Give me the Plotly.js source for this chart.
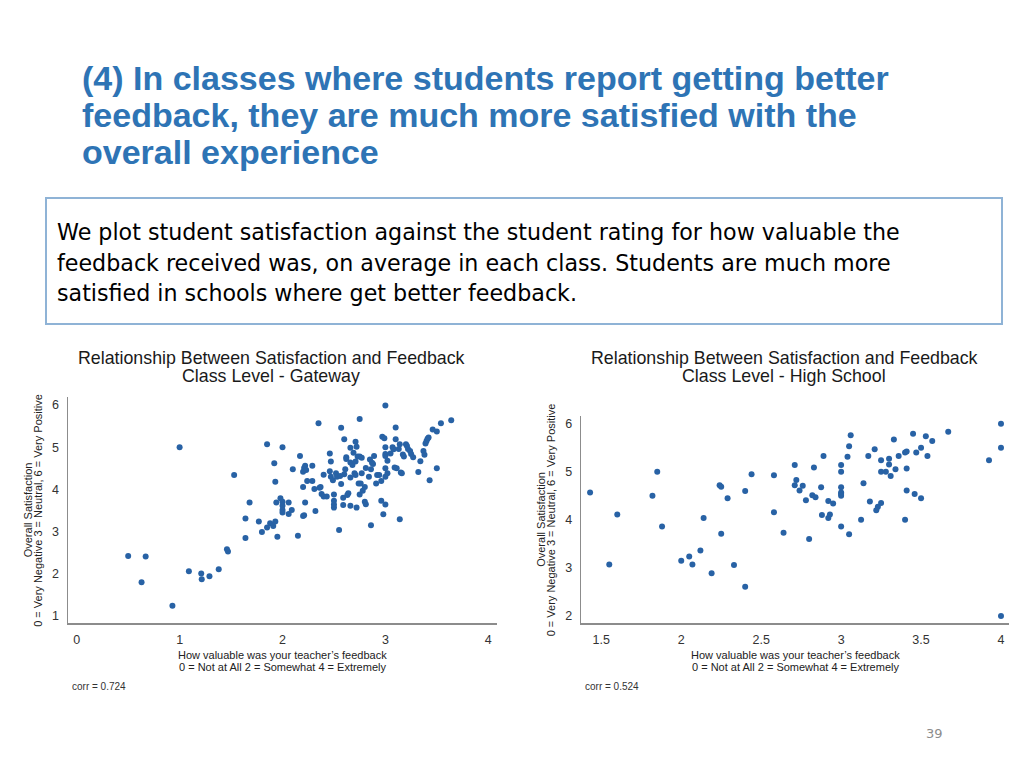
<!DOCTYPE html>
<html>
<head>
<meta charset="utf-8">
<script src="https://cdn.plot.ly/plotly-3.0.1.min.js"></script>
<style>
  html, body { margin: 0; padding: 0; background: #ffffff; }
  #chart { width: 1024px; height: 768px; }
</style>
</head>
<body>
<div id="chart"></div>
<script>
// ---------- Data ----------
// Gateway: class-level mean feedback rating (x) and satisfaction (y)
const gatewayFeedback = [
  0.50,0.67,0.63,0.93,1.00,1.09,1.21,1.215,1.29,1.38,
  1.46,1.47,1.53,1.64,1.64,1.68,1.77,1.80,1.85,1.85,
  1.88,1.91,1.93,1.92,1.93,1.95,1.94,1.98,2.00,2.00,
  2.00,2.00,2.00,2.06,2.06,2.09,2.10,2.15,2.17,2.20,
  2.20,2.21,2.20,2.21,2.22,2.23,2.24,2.22,2.29,2.29,
  2.31,2.32,2.35,2.36,2.37,2.38,2.40,2.40,2.43,2.46,
  2.46,2.47,2.47,2.49,2.50,2.50,2.50,2.50,2.52,2.53,
  2.55,2.56,2.57,2.57,2.59,2.59,2.60,2.60,2.61,2.62,
  2.62,2.63,2.64,2.66,2.66,2.66,2.66,2.68,2.69,2.70,
  2.71,2.71,2.71,2.72,2.72,2.73,2.74,2.75,2.75,2.75,
  2.76,2.77,2.77,2.78,2.80,2.80,2.81,2.81,2.84,2.85,
  2.86,2.86,2.87,2.88,2.89,2.91,2.92,2.94,2.96,2.96,
  2.97,2.98,2.99,3.00,3.00,3.00,3.00,3.00,3.00,3.00,
  3.02,3.02,3.05,3.07,3.08,3.10,3.10,3.09,3.11,3.13,
  3.14,3.14,3.15,3.16,3.17,3.18,3.20,3.21,3.22,3.24,
  3.25,3.27,3.32,3.34,3.37,3.38,3.39,3.40,3.41,3.42,
  3.43,3.46,3.50,3.50,3.54,3.64
];
const gatewaySatisfaction = [
  2.42,2.41,1.80,1.24,5.00,2.06,2.01,1.87,1.94,2.11,
  2.58,2.53,4.34,3.31,2.85,3.69,3.24,2.99,5.07,3.10,
  3.20,3.13,3.24,4.62,4.18,2.88,3.69,3.79,5.00,3.71,
  3.61,3.51,3.45,3.42,3.69,3.51,4.48,2.90,4.79,4.06,
  3.37,3.39,4.42,4.51,4.56,4.46,4.20,3.69,4.56,4.20,
  4.01,3.49,5.57,4.04,4.06,3.89,4.35,3.83,3.83,4.85,
  4.43,4.66,4.30,4.22,3.88,3.73,3.64,3.57,4.38,4.30,
  3.04,4.32,5.46,4.13,3.80,3.63,5.19,4.36,4.48,4.76,
  4.72,3.87,3.91,3.61,4.28,4.99,4.64,4.58,4.87,4.38,
  4.66,5.13,4.34,5.01,3.57,4.78,4.14,3.88,5.67,4.78,
  4.14,4.75,4.38,3.97,3.71,4.06,3.65,4.51,4.30,4.71,
  3.15,4.48,4.63,4.60,4.79,4.14,4.34,4.34,3.73,4.20,
  5.25,3.41,5.21,5.99,5.00,4.84,4.79,4.50,4.30,3.64,
  4.38,4.68,4.85,5.00,4.95,5.47,5.19,4.52,4.50,4.96,
  5.07,3.29,4.40,4.38,4.83,4.78,5.07,5.03,4.96,4.91,
  4.84,4.76,4.41,4.67,4.91,4.82,5.09,5.15,5.20,5.23,
  4.22,5.42,5.37,4.50,5.57,5.64
];

// High School: class-level mean feedback rating (x) and satisfaction (y)
const highSchoolFeedback = [
  1.43,1.55,1.60,1.82,1.85,1.88,2.00,2.05,2.07,2.12,
  2.14,2.19,2.24,2.25,2.25,2.29,2.33,2.40,2.40,2.44,
  2.58,2.58,2.64,2.71,2.71,2.72,2.74,2.76,2.78,2.80,
  2.83,2.82,2.84,2.875,2.88,2.89,2.92,2.92,2.93,2.95,
  3.00,3.00,3.00,3.00,3.00,3.00,3.00,3.04,3.05,3.05,
  3.06,3.125,3.14,3.17,3.18,3.21,3.22,3.23,3.25,3.25,
  3.25,3.28,3.30,3.30,3.31,3.33,3.34,3.36,3.40,3.40,
  3.41,3.41,3.41,3.45,3.46,3.47,3.50,3.50,3.53,3.54,
  3.57,3.67,3.925,4.00,4.00,4.00
];
const highSchoolSatisfaction = [
  4.57,3.07,4.11,4.50,5.00,3.86,3.15,3.24,3.07,3.36,
  4.04,2.89,4.72,4.69,3.71,4.45,3.06,4.60,2.61,4.95,
  4.93,4.16,3.73,5.14,4.72,4.83,4.61,4.71,4.41,3.60,
  5.09,4.51,4.47,4.68,4.10,5.33,4.39,4.04,4.11,4.34,
  5.14,5.00,4.68,4.57,4.54,4.50,3.86,5.31,5.53,3.70,
  5.76,4.00,4.76,5.33,4.38,5.47,4.20,4.27,5.24,5.00,
  4.35,5.00,5.27,5.15,4.91,5.67,5.05,5.33,4.00,5.40,
  4.61,5.42,5.07,5.79,4.54,5.40,5.50,4.45,5.74,5.33,
  5.64,5.83,5.24,6.00,5.50,2.00
];

// Tick values / labels
const gatewayXTicks = [0, 1, 2, 3, 4];
const gatewayYTicks = [1, 2, 3, 4, 5, 6];
const highSchoolXTicks = [1.5, 2, 2.5, 3, 3.5, 4];
const highSchoolXTickText = ['1.5', '2', '2.5', '3', '3.5', '4'];
const highSchoolYTicks = [2, 3, 4, 5, 6];

// Texts
const pageTitleLines = [
  '(4) In classes where students report getting better',
  'feedback, they are much more satisfied with the',
  'overall experience'
];
const paragraphLines = [
  'We plot student satisfaction against the student rating for how valuable the',
  'feedback received was, on average in each class. Students are much more',
  'satisfied in schools where get better feedback.'
];
const chartTitleMain = 'Relationship Between Satisfaction and Feedback';
const gatewaySubtitle = 'Class Level - Gateway';
const highSchoolSubtitle = 'Class Level - High School';
const xAxisTitleLines = ['How valuable was your teacher\u2019s feedback', '0 = Not at All 2 = Somewhat 4 = Extremely'];
const yAxisTitleLines = ['Overall Satisfaction', '0 = Very Negative 3 = Neutral, 6 = Very Positive'];
const gatewayCorr = 'corr = 0.724';
const highSchoolCorr = 'corr = 0.524';
const pageNumber = '39';

// ---------- Styling ----------
const FONT = 'Liberation Sans, Arial, Helvetica, sans-serif';
const BODY_FONT = 'DejaVu Sans, Verdana, sans-serif';
const W = 1024, H = 768;
const px = v => v / W;
const py = v => 1 - v / H;
const dotColor = '#2862a5';
const blue = '#2e74b5';

const markerStyle = { size: 6, color: dotColor, line: { width: 0 } };

const traces = [
  {
    type: 'scatter', mode: 'markers',
    x: gatewayFeedback, y: gatewaySatisfaction,
    xaxis: 'x', yaxis: 'y',
    marker: markerStyle, cliponaxis: false, hoverinfo: 'x+y'
  },
  {
    type: 'scatter', mode: 'markers',
    x: highSchoolFeedback, y: highSchoolSatisfaction,
    xaxis: 'x2', yaxis: 'y2',
    marker: markerStyle, cliponaxis: false, hoverinfo: 'x+y'
  }
];

const axisCommon = {
  showgrid: false, zeroline: false,
  showline: true, linecolor: '#8c8c8c', linewidth: 1.5,
  ticks: 'outside', tickcolor: 'rgba(0,0,0,0)',
  tickfont: { family: FONT, size: 12.5, color: '#333333' },
  fixedrange: true
};
const xAxisCommon = Object.assign({}, axisCommon, { ticklen: 4 });
const yAxisCommon = Object.assign({}, axisCommon, { ticklen: 5 });
const axisTitleFont = { family: FONT, size: 11, color: '#222222' };

const annotations = [];
// Page title
const titleY = [78.5, 115, 151.5];
pageTitleLines.forEach((t, i) => annotations.push({
  xref: 'paper', yref: 'paper', x: px(80), y: py(titleY[i]),
  xanchor: 'left', yanchor: 'middle', showarrow: false, align: 'left',
  text: '<b>' + t + '</b>',
  font: { family: FONT, size: 34, color: blue }
}));
// Paragraph
const paraY = [231.8, 262.6, 293.5];
paragraphLines.forEach((t, i) => annotations.push({
  xref: 'paper', yref: 'paper', x: px(55), y: py(paraY[i]),
  xanchor: 'left', yanchor: 'middle', showarrow: false, align: 'left',
  text: t,
  font: { family: BODY_FONT, size: 22.2, color: '#000000' }
}));
// Chart titles
[[271, gatewaySubtitle], [784, highSchoolSubtitle]].forEach(([cx, sub]) => {
  annotations.push({
    xref: 'paper', yref: 'paper', x: px(cx), y: py(358),
    xanchor: 'center', yanchor: 'middle', showarrow: false,
    text: chartTitleMain, font: { family: FONT, size: 17.8, color: '#1a1a1a' }
  });
  annotations.push({
    xref: 'paper', yref: 'paper', x: px(cx), y: py(376),
    xanchor: 'center', yanchor: 'middle', showarrow: false,
    text: sub, font: { family: FONT, size: 17.8, color: '#1a1a1a' }
  });
});
// Axis titles (two tightly spaced lines each)
[282.7, 795.7].forEach(cx => {
  annotations.push({
    xref: 'paper', yref: 'paper', x: px(cx), y: py(655),
    xanchor: 'center', yanchor: 'middle', showarrow: false,
    text: xAxisTitleLines[0], font: axisTitleFont
  });
  annotations.push({
    xref: 'paper', yref: 'paper', x: px(cx), y: py(666.5),
    xanchor: 'center', yanchor: 'middle', showarrow: false,
    text: xAxisTitleLines[1], font: axisTitleFont
  });
});
[[28.3, 37.8, 510], [540.3, 550.8, 519.5]].forEach(([x1, x2, cy]) => {
  annotations.push({
    xref: 'paper', yref: 'paper', x: px(x1), y: py(cy),
    xanchor: 'center', yanchor: 'middle', showarrow: false, textangle: -90,
    text: yAxisTitleLines[0], font: axisTitleFont
  });
  annotations.push({
    xref: 'paper', yref: 'paper', x: px(x2), y: py(cy),
    xanchor: 'center', yanchor: 'middle', showarrow: false, textangle: -90,
    text: yAxisTitleLines[1], font: axisTitleFont
  });
});
// corr
annotations.push({
  xref: 'paper', yref: 'paper', x: px(70), y: py(686),
  xanchor: 'left', yanchor: 'middle', showarrow: false,
  text: gatewayCorr, font: { family: FONT, size: 10, color: '#333333' }
});
annotations.push({
  xref: 'paper', yref: 'paper', x: px(583), y: py(686),
  xanchor: 'left', yanchor: 'middle', showarrow: false,
  text: highSchoolCorr, font: { family: FONT, size: 10, color: '#333333' }
});
// page number
annotations.push({
  xref: 'paper', yref: 'paper', x: px(934), y: py(733),
  xanchor: 'center', yanchor: 'middle', showarrow: false,
  text: pageNumber, font: { family: 'DejaVu Sans, sans-serif', size: 13, color: '#8c8c8c' }
});

const layout = {
  width: W, height: H,
  margin: { l: 0, r: 0, t: 0, b: 0, pad: 0 },
  paper_bgcolor: '#ffffff', plot_bgcolor: '#ffffff',
  showlegend: false,
  font: { family: FONT },
  xaxis: Object.assign({}, xAxisCommon, {
    domain: [px(68), px(497)], range: [-0.085, 4.085],
    tickvals: gatewayXTicks, anchor: 'y'
  }),
  yaxis: Object.assign({}, yAxisCommon, {
    domain: [py(623), py(397)], range: [0.834, 6.19],
    tickvals: gatewayYTicks, anchor: 'x'
  }),
  xaxis2: Object.assign({}, xAxisCommon, {
    domain: [px(581.3), px(1009.3)], range: [1.375, 4.052],
    tickvals: highSchoolXTicks, ticktext: highSchoolXTickText, anchor: 'y2'
  }),
  yaxis2: Object.assign({}, yAxisCommon, {
    domain: [py(623.3), py(416)], range: [1.848, 6.16],
    tickvals: highSchoolYTicks, anchor: 'x2'
  }),
  shapes: [
    {
      type: 'rect', xref: 'paper', yref: 'paper',
      x0: px(46), x1: px(1002), y0: py(324), y1: py(198),
      line: { color: '#8fb3d6', width: 2 }, fillcolor: 'rgba(0,0,0,0)'
    }
  ],
  annotations: annotations
};

Plotly.newPlot('chart', traces, layout, { displayModeBar: false, staticPlot: true });
</script>
</body>
</html>
